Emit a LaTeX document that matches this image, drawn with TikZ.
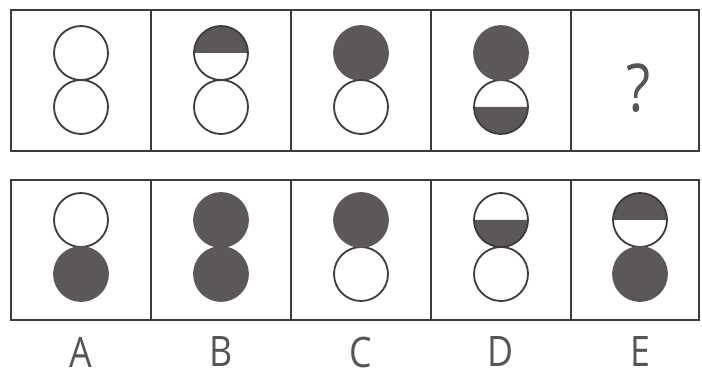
\documentclass[tikz,border=0pt]{standalone}
\usepackage{fontspec}
\setmainfont{Open Sans}
\definecolor{fillc}{RGB}{92,88,88}
\definecolor{linec}{RGB}{60,60,60}
\definecolor{txtc}{RGB}{85,85,85}
\tikzset{
  frame/.style={draw=linec, line width=1.8pt},
  ring/.style={draw=linec, line width=1.8pt},
  solid disc/.style={fill=fillc, draw=fillc, line width=1.8pt},
  half/.style={fill=fillc},
  lab/.style={text=txtc, font=\fontsize{42}{42}\selectfont, inner sep=0pt, xscale=0.85},
}
\begin{document}
\begin{tikzpicture}[x=1pt,y=1pt]
\useasboundingbox (0,0) rectangle (702,378);
\def\r{27}
% frames
\draw[frame] (11,227) rectangle (699,368);
\foreach \x in {151,291,431,571} \draw[frame] (\x,227) -- (\x,368);
\draw[frame] (11,58) rectangle (699,198);
\foreach \x in {151,291,431,571} \draw[frame] (\x,58) -- (\x,198);
% ---- top row: upper circle y=325, lower y=271
% 1
\draw[ring] (81,325) circle (\r);
\draw[ring] (81,271) circle (\r);
% 2
\fill[half] (221-\r,325) arc[start angle=180,end angle=0,radius=\r] -- cycle;
\draw[ring] (221,325) circle (\r);
\draw[ring] (221,271) circle (\r);
% 3
\draw[solid disc] (361,325) circle (\r);
\draw[ring] (361,271) circle (\r);
% 4
\fill[half] (501-\r,271) arc[start angle=180,end angle=360,radius=\r] -- cycle;
\draw[ring] (501,271) circle (\r);
\draw[solid disc] (501,325) circle (\r);
% ?
\node[lab, font=\fontsize{66}{66}\selectfont, xscale=1] (q) at (639,290) {?};
% ---- bottom row: upper circle y=158, lower y=104
% A
\draw[ring] (81,158) circle (\r);
\draw[solid disc] (81,104) circle (\r);
% B
\draw[solid disc] (221,158) circle (\r);
\draw[solid disc] (221,104) circle (\r);
% C
\draw[ring] (361,104) circle (\r);
\draw[solid disc] (361,158) circle (\r);
% D
\fill[half] (501-\r,158) arc[start angle=180,end angle=360,radius=\r] -- cycle;
\draw[ring] (501,158) circle (\r);
\draw[ring] (501,104) circle (\r);
% E
\fill[half] (640-\r,158) arc[start angle=180,end angle=0,radius=\r] -- cycle;
\draw[ring] (640,158) circle (\r);
\draw[solid disc] (640,104) circle (\r);
% labels
\node[lab] (la) at (81,26) {A};
\node[lab] (lb) at (221,26) {B};
\node[lab] (lc) at (361,26) {C};
\node[lab] (ld) at (501,26) {D};
\node[lab] (le) at (640,26) {E};
\end{tikzpicture}
\end{document}
